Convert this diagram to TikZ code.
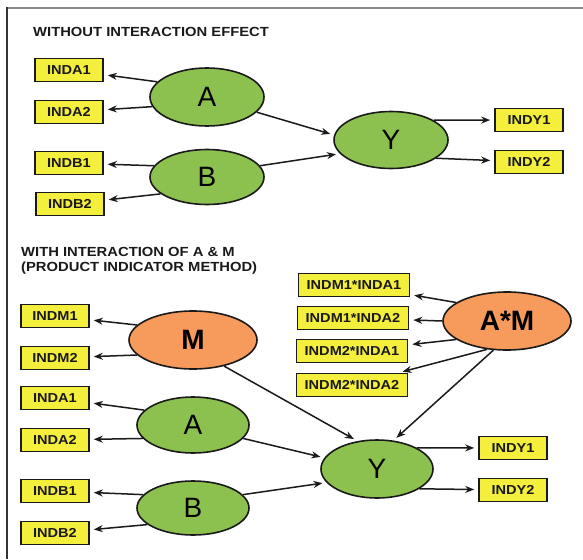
\documentclass[tikz,border=0pt]{standalone}
\usepackage{fontspec}
\setmainfont{Liberation Sans}
\newfontfamily\boxfont[FakeStretch=1.12]{Liberation Sans}
\usetikzlibrary{shapes.geometric,arrows.meta}
\definecolor{latgreen}{HTML}{8DC14F}
\definecolor{latorange}{HTML}{F79B5C}
\definecolor{indyellow}{HTML}{F4EE3C}
\definecolor{inkline}{HTML}{1A1A1A}
\tikzset{
  indbox/.style={draw=inkline, line width=1.6pt, fill=indyellow, inner sep=0pt,
    minimum width=68pt, minimum height=23pt,
    font=\boxfont\bfseries\fontsize{13}{13}\selectfont, text=black!90},
  widebox/.style={indbox, minimum width=111pt},
  latent/.style={ellipse, draw=inkline, line width=1.6pt, fill=latgreen, inner sep=0pt,
    font=\fontsize{28}{28}\selectfont},
  modlatent/.style={latent, fill=latorange, font=\bfseries\fontsize{28}{28}\selectfont},
  path arrow/.style={draw=inkline, line width=1.5pt,
    -{Stealth[length=9pt,width=7pt]}, shorten >=4pt},
  heading/.style={font=\boxfont\bfseries\fontsize{13.2}{15.5}\selectfont, anchor=north west,
    align=left, inner sep=0pt, text=black!90}
}
\begin{document}
\begin{tikzpicture}[x=1pt,y=-1pt]
\useasboundingbox (0,0) rectangle (583,559);
% frame
\draw[line width=2pt, draw=black!45] (7,8) -- (583,8);
\draw[line width=1.5pt, draw=black!80] (7,7) -- (7,559);

% ---- upper model ----
\node[heading] (t1) at (33,27) {WITHOUT INTERACTION EFFECT};

\node[indbox] (ua1) at (69,70) {INDA1};
\node[indbox] (ua2) at (69,112) {INDA2};
\node[indbox] (ub1) at (69,163) {INDB1};
\node[indbox] (ub2) at (70,204) {INDB2};
\node[latent, minimum width=114pt, minimum height=58pt] (uA) at (207,97) {A};
\node[latent, minimum width=114pt, minimum height=55pt] (uB) at (207,177) {B};
\node[latent, minimum width=114pt, minimum height=57pt] (uY) at (391,140) {Y};
\node[indbox] (uy1) at (529,120) {INDY1};
\node[indbox] (uy2) at (529,162) {INDY2};

\draw[path arrow] (uA.163) -- (ua1);
\draw[path arrow] (uA.190) -- (ua2);
\draw[path arrow] (uB.168) -- (ub1);
\draw[path arrow] (uB.200) -- (ub2);
\draw[path arrow] (uA.343) -- (uY.175);
\draw[path arrow] (uB.12) -- (uY.195);
\draw[path arrow] (uY.25) -- (uy1);
\draw[path arrow] (uY.338) -- (uy2);

% ---- lower model ----
\node[heading] (t2) at (21,247) {WITH INTERACTION OF A \& M\\(PRODUCT INDICATOR METHOD)};

\node[indbox] (lm1) at (55,316) {INDM1};
\node[indbox] (lm2) at (55,358) {INDM2};
\node[indbox] (la1) at (55,398) {INDA1};
\node[indbox] (la2) at (55,440) {INDA2};
\node[indbox] (lb1) at (55,491) {INDB1};
\node[indbox] (lb2) at (55,533) {INDB2};
\node[modlatent, minimum width=128pt, minimum height=58pt] (lM) at (193,340) {M};
\node[latent, minimum width=112pt, minimum height=56pt] (lA) at (193,425) {A};
\node[latent, minimum width=112pt, minimum height=54pt] (lB) at (193,508) {B};
\node[latent, minimum width=112pt, minimum height=58pt] (lY) at (377,469) {Y};
\node[modlatent, minimum width=128pt, minimum height=58pt] (lAM) at (507,321) {A*M};
\node[widebox] (p11) at (354,285) {INDM1*INDA1};
\node[widebox] (p12) at (353,318) {INDM1*INDA2};
\node[widebox] (p21) at (352,351) {INDM2*INDA1};
\node[widebox] (p22) at (352,385) {INDM2*INDA2};
\node[indbox] (ly1) at (513,448) {INDY1};
\node[indbox] (ly2) at (513,490) {INDY2};

\draw[path arrow] (lM.165) -- (lm1);
\draw[path arrow] (lM.195) -- (lm2);
\draw[path arrow] (lA.163) -- (la1);
\draw[path arrow] (lA.195) -- (la2);
\draw[path arrow] (lB.165) -- (lb1);
\draw[path arrow] (lB.200) -- (lb2);
\draw[path arrow] (lM.320) -- (lY.125);
\draw[path arrow] (lA.345) -- (lY.168);
\draw[path arrow] (lB.15) -- (lY.195);
\draw[path arrow] (lAM.245) -- (lY.60);
\draw[path arrow] (lAM.160) -- (p11);
\draw[path arrow] (lAM.180) -- (p12);
\draw[path arrow] (lAM.200) -- (p21);
\draw[path arrow] (lAM.235) -- (p22);
\draw[path arrow] (lY.28) -- (ly1);
\draw[path arrow] (lY.335) -- (ly2);
\end{tikzpicture}
\end{document}
